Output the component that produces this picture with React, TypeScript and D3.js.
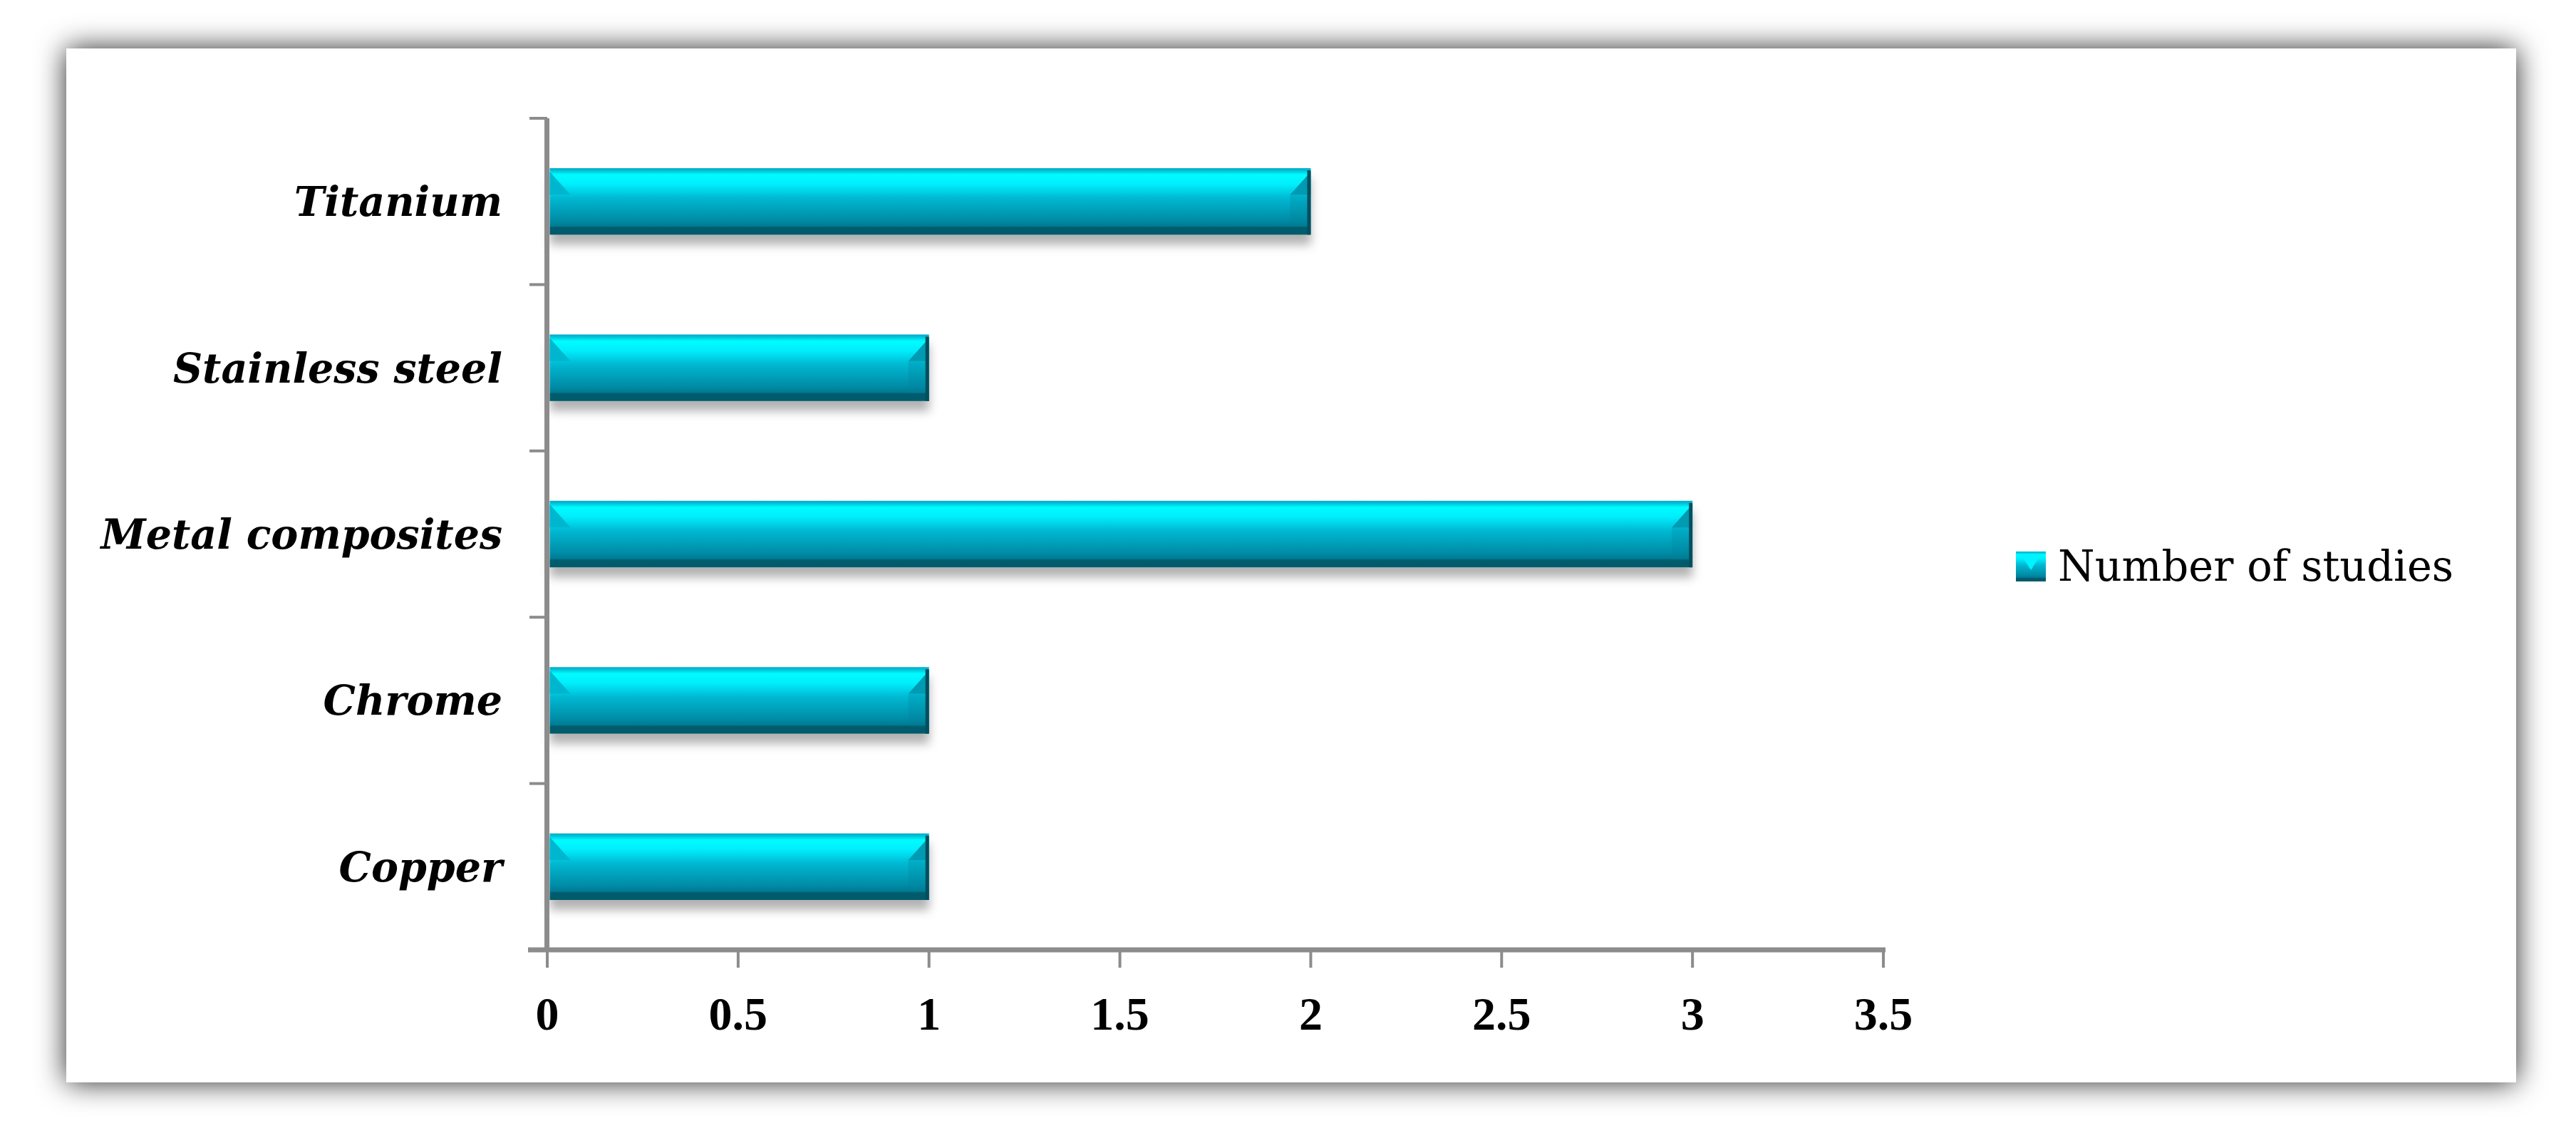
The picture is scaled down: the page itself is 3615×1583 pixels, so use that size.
import React, {useEffect, useRef} from 'react';
import * as d3 from 'd3';

// chart data, bottom to top as in the picture
const categories = ['Copper', 'Chrome', 'Metal composites', 'Stainless steel', 'Titanium'];
const studies = [1, 1, 3, 1, 2];
const xTicks = [0, 0.5, 1, 1.5, 2, 2.5, 3, 3.5];
const seriesName = 'Number of studies';

const W = 3615;
const H = 1583;

export default function App() {
  const svgRef = useRef<SVGSVGElement>(null);

  useEffect(() => {
    document.body.style.margin = '0';
    const svg = d3.select(svgRef.current);
    svg.selectAll('*').remove();

    const defs = svg.append('defs');

    // soft grey shadow round the white panel
    const pf = defs.append('filter').attr('id', 'panelShadow')
      .attr('x', -0.1).attr('y', -0.2).attr('width', 1.2).attr('height', 1.4);
    pf.append('feDropShadow').attr('dx', 0).attr('dy', 0)
      .attr('stdDeviation', 20).attr('flood-color', '#000').attr('flood-opacity', 0.85);

    // bar shadow falls below
    const bf = defs.append('filter').attr('id', 'barShadow')
      .attr('x', -0.1).attr('y', -0.3).attr('width', 1.2).attr('height', 1.9);
    bf.append('feDropShadow').attr('dx', 0).attr('dy', 14)
      .attr('stdDeviation', 7).attr('flood-color', '#000').attr('flood-opacity', 0.3);

    // glossy cyan fill
    const g = defs.append('linearGradient').attr('id', 'barFill')
      .attr('x1', 0).attr('y1', 0).attr('x2', 0).attr('y2', 1);
    [
      [0, '#00a8c4'], [0.04, '#00c4da'], [0.1, '#00fcff'], [0.24, '#00eefc'],
      [0.45, '#00b8d2'], [0.78, '#008ca6'], [0.87, '#007a92'], [0.89, '#005c6e'], [1, '#005a6a'],
    ].forEach(([o, c]) => g.append('stop').attr('offset', o).attr('stop-color', c));

    svg.append('rect').attr('width', W).attr('height', H).attr('fill', '#fff');

    svg.append('rect')
      .attr('x', 93).attr('y', 68).attr('width', 3438).attr('height', 1451)
      .attr('fill', '#fff')
      .attr('filter', 'url(#panelShadow)');

    // scales
    const x = d3.scaleLinear().domain([0, 3.5]).range([768, 2643]);
    const y = d3.scaleBand()
      .domain(categories.slice().reverse())
      .range([166, 1333])
      .paddingInner(0.6)
      .paddingOuter(0.3);
    const step = y.step();
    const axisColor = '#8c8c8c';

    // bars
    const bars = svg.append('g').selectAll('g')
      .data(categories.map((c, i) => ({label: c, value: studies[i]})))
      .enter()
      .append('g')
      .attr('filter', 'url(#barShadow)');

    bars.each(function (d) {
      const b = d3.select(this);
      const x0 = x(0) + 3.5;
      const x1 = x(d.value);
      const y0 = y(d.label)!;
      const h = y.bandwidth();
      const bev = 29;
      const mid = y0 + 0.4 * h;
      b.append('rect').attr('x', x0).attr('y', y0).attr('width', x1 - x0).attr('height', h)
        .attr('fill', 'url(#barFill)');
      // bevel facets at the ends cut the bright top
      b.append('polygon')
        .attr('points', `${x0},${y0 + 5} ${x0 + bev},${mid} ${x0},${mid}`)
        .attr('fill', '#00b6ce');
      b.append('polygon')
        .attr('points', `${x1},${y0 + 5} ${x1 - bev},${mid} ${x1},${mid}`)
        .attr('fill', '#009ab2');
      b.append('rect').attr('x', x1 - bev).attr('y', mid).attr('width', bev).attr('height', 0.48 * h)
        .attr('fill', '#007f96').attr('opacity', 0.25);
      b.append('rect').attr('x', x1 - 5).attr('y', y0 + 3).attr('width', 5).attr('height', h - 3)
        .attr('fill', '#00505f');
    });

    // y axis
    svg.append('line').attr('x1', 767.5).attr('x2', 767.5).attr('y1', 166).attr('y2', 1333)
      .attr('stroke', axisColor).attr('stroke-width', 7);
    d3.range(categories.length + 1).forEach((i) => {
      const ty = 166 + i * step;
      svg.append('line').attr('x1', 743).attr('x2', 768).attr('y1', ty).attr('y2', ty)
        .attr('stroke', axisColor).attr('stroke-width', 4);
    });

    // x axis
    svg.append('line').attr('x1', 741).attr('x2', 2646).attr('y1', 1333).attr('y2', 1333)
      .attr('stroke', axisColor).attr('stroke-width', 7);
    const xt = svg.append('g').selectAll('g').data(xTicks).enter().append('g');
    xt.append('line')
      .attr('x1', (d) => x(d)).attr('x2', (d) => x(d))
      .attr('y1', 1333).attr('y2', 1358)
      .attr('stroke', axisColor).attr('stroke-width', 4);
    xt.append('text')
      .attr('x', (d) => x(d)).attr('y', 1445)
      .attr('text-anchor', 'middle')
      .attr('font-family', '"Liberation Serif", serif')
      .attr('font-weight', 'bold')
      .attr('font-size', 66)
      .attr('fill', '#000')
      .text((d) => String(d));

    // category labels
    svg.append('g').selectAll('text').data(categories).enter().append('text')
      .attr('x', 705)
      .attr('y', (d) => y(d)! + y.bandwidth() / 2)
      .attr('dy', '0.36em')
      .attr('text-anchor', 'end')
      .attr('font-family', '"DejaVu Serif", serif')
      .attr('font-weight', 'bold')
      .attr('font-style', 'italic')
      .attr('font-size', 57)
      .attr('fill', '#000')
      .text((d) => d);

    // legend
    const lg = svg.append('g');
    lg.append('rect').attr('x', 2829).attr('y', 774).attr('width', 42).attr('height', 42)
      .attr('fill', 'url(#barFill)');
    lg.append('polygon').attr('points', '2836,778 2864,778 2850,800').attr('fill', '#00f4ff');
    lg.append('text').attr('x', 2888).attr('y', 815)
      .attr('font-family', '"DejaVu Serif", serif')
      .attr('font-size', 59)
      .attr('fill', '#000')
      .text(seriesName);
  }, []);

  return <svg ref={svgRef} width={W} height={H} style={{display: 'block'}}></svg>;
}
